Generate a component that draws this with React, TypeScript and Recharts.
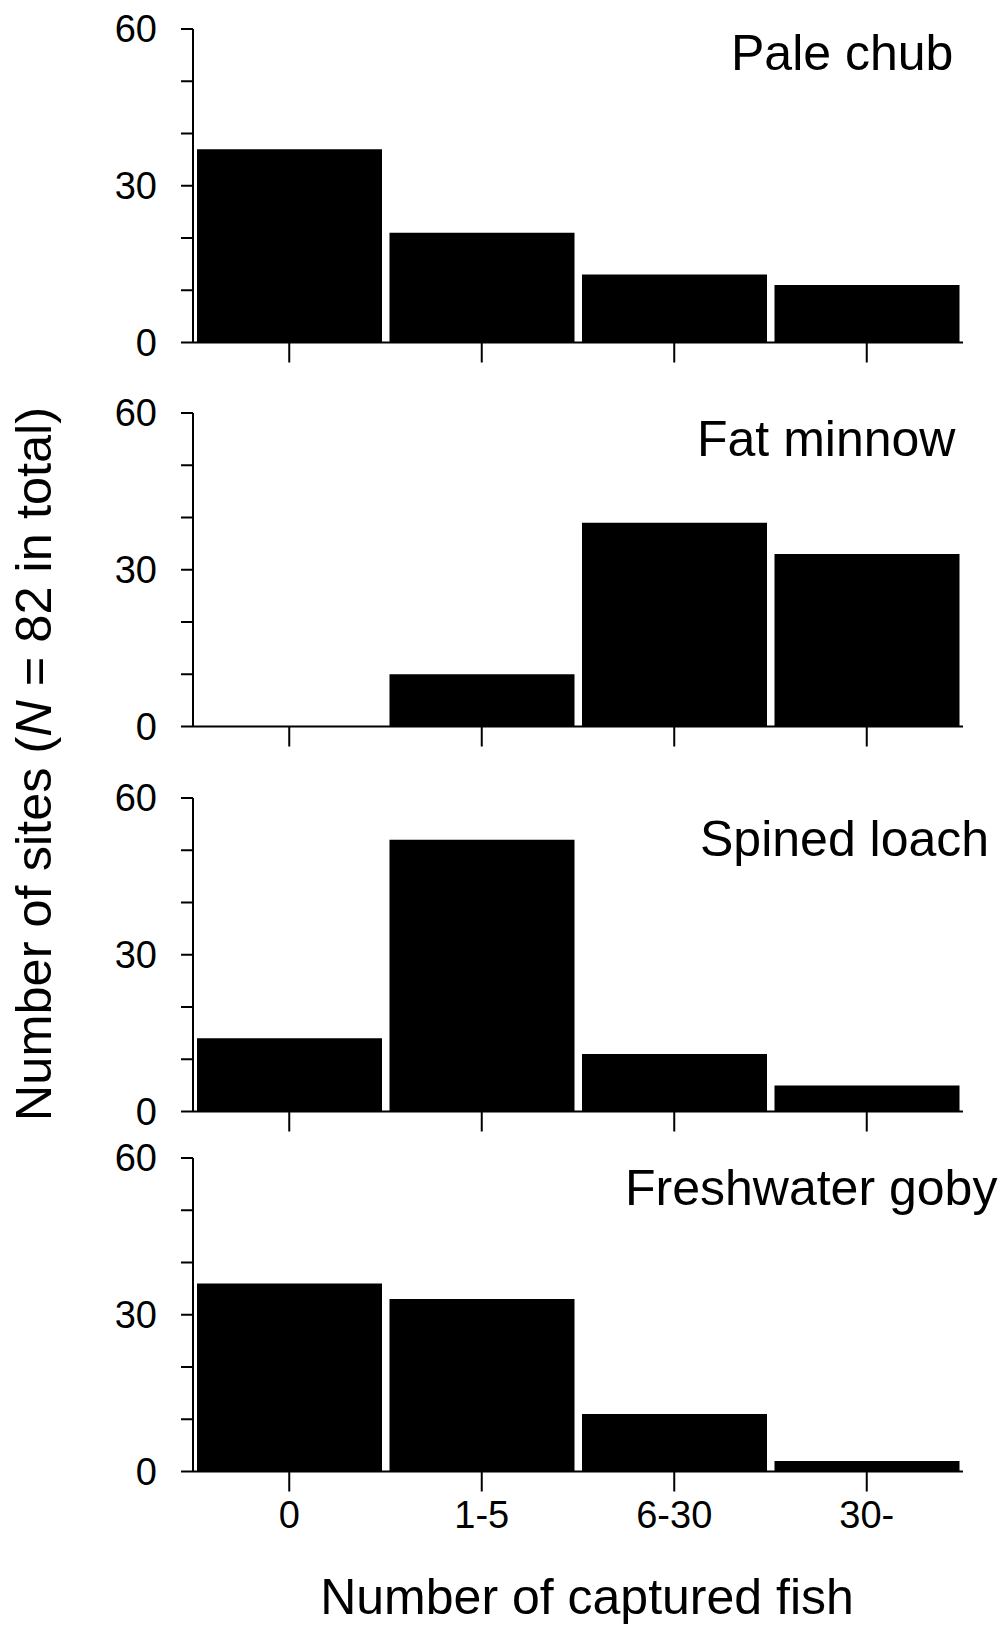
import React from "react";
import { BarChart, Bar, XAxis, YAxis } from "recharts";

const categories = ["0", "1-5", "6-30", "30-"];
const paleChub = [37, 21, 13, 11];
const fatMinnow = [0, 10, 39, 33];
const spinedLoach = [14, 52, 11, 5];
const freshwaterGoby = [36, 33, 11, 2];
const yTicks = [0, 10, 20, 30, 40, 50, 60];

const FONT = "'Liberation Sans', Arial, sans-serif";
const TOP_PAD = 30;

const panels = [
    { name: "Pale chub", values: paleChub, y60: 29.3, titleX: 731, titleY: 70, labels: false },
    { name: "Fat minnow", values: fatMinnow, y60: 413, titleX: 697, titleY: 456, labels: false },
    { name: "Spined loach", values: spinedLoach, y60: 797.5, titleX: 700, titleY: 856, labels: false },
    { name: "Freshwater goby", values: freshwaterGoby, y60: 1157.5, titleX: 625, titleY: 1205, labels: true },
];

function Panel({ values, y60, labels }: { values: number[]; y60: number; labels: boolean }) {
    const data = categories.map((c, i) => ({ cat: c, n: values[i] }));
    const xHeight = labels ? 80 : 30;
    return (
        <div style={{ position: "absolute", left: 0, top: y60 - TOP_PAD }}>
            <BarChart
                width={1000}
                height={TOP_PAD + 313.5 + xHeight}
                data={data}
                margin={{ top: TOP_PAD, right: 37, left: 113, bottom: 0 }}
                barCategoryGap={4}
            >
                <XAxis
                    dataKey="cat"
                    interval={0}
                    height={xHeight}
                    tickSize={20}
                    tickMargin={10}
                    axisLine={{ stroke: "#000", strokeWidth: 2 }}
                    tickLine={{ stroke: "#000", strokeWidth: 2 }}
                    tick={{ fontSize: 38, fill: "#000", fontFamily: FONT }}
                    tickFormatter={(v) => (labels ? v : "")}
                />
                <YAxis
                    domain={[0, 60]}
                    ticks={yTicks}
                    interval={0}
                    width={80}
                    tickSize={12}
                    tickMargin={24}
                    axisLine={{ stroke: "#000", strokeWidth: 2 }}
                    tickLine={{ stroke: "#000", strokeWidth: 2 }}
                    tick={{ fontSize: 38, fill: "#000", fontFamily: FONT }}
                    tickFormatter={(v) => (v % 30 === 0 ? String(v) : "")}
                />
                <Bar dataKey="n" fill="#000" isAnimationActive={false} />
            </BarChart>
        </div>
    );
}

export default function App() {
    return (
        <div style={{ position: "absolute", left: 0, top: 0, width: 1000, height: 1627, background: "#fff", overflow: "hidden" }}>
            {panels.map((p) => (
                <Panel key={p.name} values={p.values} y60={p.y60} labels={p.labels} />
            ))}
            <svg width={1000} height={1627} style={{ position: "absolute", left: 0, top: 0, pointerEvents: "none" }}>
                {panels.map((p) => (
                    <text key={p.name} x={p.titleX} y={p.titleY} fontSize={50} fontFamily={FONT} fill="#000">
                        {p.name}
                    </text>
                ))}
                <text
                    x={51}
                    y={764}
                    transform="rotate(-90, 51, 764)"
                    textAnchor="middle"
                    fontSize={50.5}
                    fontFamily={FONT}
                    fill="#000"
                >
                    Number of sites (<tspan fontStyle="italic">N</tspan> = 82 in total)
                </text>
                <text x={587} y={1614} textAnchor="middle" fontSize={50} fontFamily={FONT} fill="#000">
                    Number of captured fish
                </text>
            </svg>
        </div>
    );
}
